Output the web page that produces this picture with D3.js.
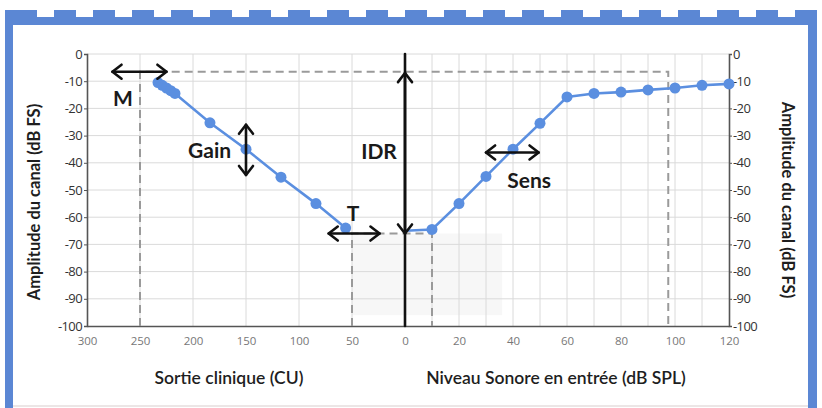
<!DOCTYPE html>
<html>
<head>
<meta charset="utf-8">
<script src="https://cdn.jsdelivr.net/npm/d3@7"></script>
<style>
  html, body { margin: 0; padding: 0; background: #fff; }
  svg { display: block; }
  text { font-family: Lato, "Open Sans", sans-serif; }
</style>
</head>
<body>
<svg id="chart" width="822" height="408"></svg>
<script>
// ---- data -------------------------------------------------------------
// Left half: clinical output (CU), axis runs 300 -> 0
const cuTicks = [300, 250, 200, 150, 100, 50, 0];
const cuGrid = [250, 200, 150, 100, 50];
const cuPoints = [233, 229, 225, 221, 217, 184, 150, 117, 84, 56];
const cuAmplitude = [-10.5, -11.5, -12.5, -13.5, -14.5, -25.3, -35, -45.3, -55, -64];

// Right half: input sound level (dB SPL), axis runs 0 -> 120
const splTicks = [0, 20, 40, 60, 80, 100, 120];
const splGrid = [10, 20, 30, 40, 50, 60, 70, 80, 90, 100, 110];
const splPoints = [0, 10, 20, 30, 40, 50, 60, 70, 80, 90, 100, 110, 120];
const splAmplitude = [-65, -64.5, -55, -45, -35, -25.5, -15.8, -14.5, -14, -13.2, -12.5, -11.5, -11];
const splMarked = [false, true, true, true, true, true, true, true, true, true, true, true, true];

// Channel amplitude (dB FS)
const ampTicks = [0, -10, -20, -30, -40, -50, -60, -70, -80, -90, -100];

// Reference levels for the dashed guides
const mLevel = -6.5;       // maximum output level
const mCU = 250;
const mSPL = 97.5;
const tLevel = -66;        // threshold level
const tCU = 50;
const tSPL = 10;

// ---- layout -----------------------------------------------------------
const svg = d3.select("#chart");
const plotLeft = 87, plotMid = 405, plotRight = 729, plotTop = 54, plotBottom = 326;

const xCU = d3.scaleLinear().domain([300, 0]).range([plotLeft, plotMid]);
const xSPL = d3.scaleLinear().domain([0, 120]).range([plotMid, plotRight]);
const y = d3.scaleLinear().domain([-100, 0]).range([plotBottom, plotTop]);

const blue = "#5b8fe0";
const frameBlue = "#5b87d4";

// ---- frame ------------------------------------------------------------
const frame = svg.append("g");
frame.append("rect").attr("x", 5).attr("y", 17).attr("width", 812).attr("height", 8).attr("fill", frameBlue);
frame.append("rect").attr("x", 5).attr("y", 17).attr("width", 8).attr("height", 391).attr("fill", frameBlue);
frame.append("rect").attr("x", 808).attr("y", 17).attr("width", 9).attr("height", 391).attr("fill", frameBlue);
frame.selectAll("rect.tooth").data(d3.range(0, 21)).join("rect")
  .attr("class", "tooth")
  .attr("x", k => 15 + 39 * k).attr("y", 10).attr("width", 22).attr("height", 8)
  .attr("fill", frameBlue);
frame.append("rect").attr("x", 5).attr("y", 10).attr("width", 10).attr("height", 8).attr("fill", frameBlue);
frame.append("line").attr("x1", 13).attr("x2", 808).attr("y1", 406).attr("y2", 406)
  .attr("stroke", "#ece6e6").attr("stroke-width", 2);

// ---- faint panel under the threshold zone -----------------------------
svg.append("rect")
  .attr("x", xCU(tCU)).attr("y", y(tLevel))
  .attr("width", xSPL(36) - xCU(tCU)).attr("height", y(-96) - y(tLevel))
  .attr("fill", "#f7f7f7");

// ---- grid -------------------------------------------------------------
const grid = svg.append("g").attr("stroke", "#dadada").attr("stroke-width", 1);
grid.selectAll("line.h").data(ampTicks.filter(v => v > -100)).join("line")
  .attr("class", "h")
  .attr("x1", plotLeft).attr("x2", plotRight).attr("y1", d => y(d)).attr("y2", d => y(d));
grid.selectAll("line.vc").data(cuGrid).join("line")
  .attr("class", "vc")
  .attr("x1", d => xCU(d)).attr("x2", d => xCU(d)).attr("y1", plotTop).attr("y2", plotBottom);
grid.selectAll("line.vs").data(splGrid).join("line")
  .attr("class", "vs")
  .attr("x1", d => xSPL(d)).attr("x2", d => xSPL(d)).attr("y1", plotTop).attr("y2", plotBottom);

// ---- axes -------------------------------------------------------------
const axisColor = "#555";
const plain = d => String(d);
const yLeft = svg.append("g").attr("transform", `translate(${plotLeft},0)`)
  .call(d3.axisLeft(y).tickValues(ampTicks).tickFormat(plain).tickSize(3).tickPadding(2));
const yRight = svg.append("g").attr("transform", `translate(${plotRight},0)`)
  .call(d3.axisRight(y).tickValues(ampTicks).tickFormat(plain).tickSize(3).tickPadding(1));
const xLeft = svg.append("g").attr("transform", `translate(0,${plotBottom})`)
  .call(d3.axisBottom(xCU).tickValues(cuTicks).tickFormat(plain).tickSize(0).tickPadding(11));
const xRight = svg.append("g").attr("transform", `translate(0,${plotBottom})`)
  .call(d3.axisBottom(xSPL).tickValues(splTicks).tickFormat(plain).tickSize(0).tickPadding(11));

[yLeft, yRight].forEach(g => {
  g.select(".domain").attr("stroke", axisColor).attr("stroke-width", 1.6);
  g.selectAll(".tick line").attr("stroke", axisColor);
  g.selectAll(".tick text").attr("fill", "#333").style("font-size", "13px")
    .style("font-family", "'Open Sans', sans-serif").style("letter-spacing", "-0.6px");
});
[xLeft, xRight].forEach(g => {
  g.select(".domain").attr("stroke", axisColor).attr("stroke-width", 1.6);
  g.selectAll(".tick text").attr("fill", "#777").style("font-size", "11.5px")
    .style("font-family", "'Open Sans', sans-serif");
});
xRight.selectAll(".tick").filter(d => d === 0).remove();

// ---- dashed guides ----------------------------------------------------
const guides = svg.append("g").attr("fill", "none").attr("stroke", "#9a9a9a")
  .attr("stroke-width", 2).attr("stroke-dasharray", "8,5");
guides.append("path").attr("d", d3.line()([
  [xCU(mCU), plotBottom], [xCU(mCU), y(mLevel)], [xSPL(mSPL), y(mLevel)], [xSPL(mSPL), plotBottom]
]));
guides.append("path").attr("d", d3.line()([
  [xCU(tCU), plotBottom], [xCU(tCU), y(tLevel)], [xSPL(tSPL), y(tLevel)], [xSPL(tSPL), plotBottom]
]));

// ---- series -----------------------------------------------------------
const leftData = cuPoints.map((c, i) => [xCU(c), y(cuAmplitude[i])]);
const rightData = splPoints.map((s, i) => [xSPL(s), y(splAmplitude[i]), splMarked[i]]);
const series = svg.append("g");
series.append("path").attr("d", d3.line()(leftData))
  .attr("fill", "none").attr("stroke", blue).attr("stroke-width", 2.6);
series.append("path").attr("d", d3.line()(rightData.map(d => [d[0], d[1]])))
  .attr("fill", "none").attr("stroke", blue).attr("stroke-width", 2.6);
series.selectAll("circle.l").data(leftData).join("circle")
  .attr("class", "l").attr("cx", d => d[0]).attr("cy", d => d[1]).attr("r", 5.5).attr("fill", blue);
series.selectAll("circle.r").data(rightData.filter(d => d[2])).join("circle")
  .attr("class", "r").attr("cx", d => d[0]).attr("cy", d => d[1]).attr("r", 5.5).attr("fill", blue);

// ---- annotations ------------------------------------------------------
const ann = svg.append("g").attr("stroke", "#111").attr("fill", "none")
  .attr("stroke-width", 2.6).attr("stroke-linecap", "round").attr("stroke-linejoin", "round");

function hArrow(x1, x2, yy) {
  const h = 7;
  ann.append("line").attr("x1", x1).attr("x2", x2).attr("y1", yy).attr("y2", yy);
  ann.append("path").attr("d", `M${x1 + h * 1.3},${yy - h} L${x1},${yy} L${x1 + h * 1.3},${yy + h}`);
  ann.append("path").attr("d", `M${x2 - h * 1.3},${yy - h} L${x2},${yy} L${x2 - h * 1.3},${yy + h}`);
}
function vArrow(xx, y1, y2) {
  const h = 7;
  ann.append("line").attr("x1", xx).attr("x2", xx).attr("y1", y1).attr("y2", y2);
  ann.append("path").attr("d", `M${xx - h},${y1 + h * 1.3} L${xx},${y1} L${xx + h},${y1 + h * 1.3}`);
  ann.append("path").attr("d", `M${xx - h},${y2 - h * 1.3} L${xx},${y2} L${xx + h},${y2 - h * 1.3}`);
}

// IDR: full-height centre line with arrowheads at the M and T levels
ann.append("line").attr("x1", plotMid).attr("x2", plotMid).attr("y1", plotTop).attr("y2", plotBottom);
vArrow(plotMid, y(-7), y(-66));
hArrow(xCU(276), xCU(225), y(mLevel));        // M
vArrow(xCU(150), y(-26), y(-44.5));           // Gain
hArrow(xCU(72), xCU(24), y(tLevel));          // T
hArrow(xSPL(30), xSPL(49.5), y(-36.2));       // Sens

const labels = [
  { t: "M", x: xCU(266), yv: -19, anchor: "middle" },
  { t: "Gain", x: xCU(164), yv: -38.3, anchor: "end" },
  { t: "IDR", x: xCU(24.5), yv: -38.7, anchor: "middle" },
  { t: "T", x: xCU(49), yv: -61.3, anchor: "middle" },
  { t: "Sens", x: xSPL(46), yv: -49.3, anchor: "middle" }
];
svg.append("g").selectAll("text").data(labels).join("text")
  .attr("x", d => d.x).attr("y", d => y(d.yv))
  .attr("text-anchor", d => d.anchor)
  .attr("fill", "#1a1a1a").style("font-size", "21px").style("font-weight", "700")
  .text(d => d.t);

// ---- axis titles ------------------------------------------------------
const titleStyle = s => s.attr("fill", "#1e1e1e").style("font-size", "16.5px").style("font-weight", "700");
svg.append("text").attr("transform", `translate(40,${(plotTop + plotBottom) / 2 + 12}) rotate(-90)`)
  .attr("text-anchor", "middle").call(titleStyle).text("Amplitude du canal (dB FS)");
svg.append("text").attr("transform", `translate(782,${(plotTop + plotBottom) / 2 + 10}) rotate(90)`)
  .attr("text-anchor", "middle").call(titleStyle).text("Amplitude du canal (dB FS)");
svg.append("text").attr("x", 229).attr("y", 384).attr("text-anchor", "middle")
  .call(titleStyle).style("font-size", "17.5px").style("font-weight", "600").text("Sortie clinique (CU)");
svg.append("text").attr("x", 556).attr("y", 384).attr("text-anchor", "middle")
  .call(titleStyle).style("font-size", "17.5px").style("font-weight", "600").text("Niveau Sonore en entrée (dB SPL)");
</script>
</body>
</html>
